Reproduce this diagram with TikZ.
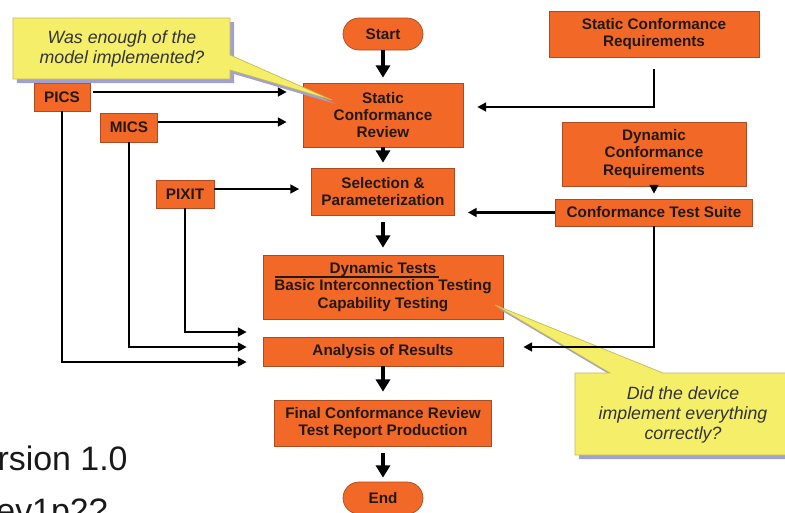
\documentclass[tikz,border=0pt]{standalone}
\usepackage{fontspec}
\setmainfont{Liberation Sans}
\usetikzlibrary{arrows.meta}
\definecolor{boxorange}{RGB}{242,104,38}
\definecolor{boxedge}{RGB}{170,75,35}
\definecolor{boxtext}{RGB}{35,25,20}
\definecolor{noteyellow}{RGB}{245,238,105}
\definecolor{noteedge}{RGB}{195,185,90}
\definecolor{shadowblue}{RGB}{160,160,210}

\begin{document}
\begin{tikzpicture}[x=0.02cm,y=-0.02cm,
  box/.style={draw=boxedge,fill=boxorange,text=boxtext,font=\bfseries\fontsize{8.7}{9.9}\selectfont,align=center,inner sep=0pt},
  note/.style={fill=noteyellow,draw=noteedge,line width=0.4pt},
  noteshadow/.style={fill=shadowblue,xshift=0.08cm,yshift=-0.08cm},
  notetext/.style={font=\itshape\fontsize{10.1}{11.3}\selectfont,align=center,text=black!80,inner sep=0pt},
  flow/.style={line width=1.8pt,-{Triangle[width=8pt,length=7pt]},shorten >=0.12cm},
  feed/.style={line width=1.2pt,-{Triangle[width=5pt,length=5pt]}}]
  \useasboundingbox (0,0) rectangle (785,512);
  \clip (0,0) rectangle (785,512);

  % main column
  \node[box,minimum width=1.6cm,minimum height=0.64cm,rounded corners=0.32cm] (start) at (383,34) {Start};
  \node[box,minimum width=3.2cm,minimum height=1.28cm] (scr) at (383,115) {Static\\Conformance\\Review};
  \node[box,minimum width=2.86cm,minimum height=0.94cm] (sel) at (383,191.5) {Selection \&\\Parameterization};
  \node[box,minimum width=4.8cm,minimum height=1.28cm] (dyn) at (383,287) {Dynamic Tests\\Basic Interconnection Testing\\Capability Testing};
  \node[box,minimum width=4.8cm,minimum height=0.58cm] (ana) at (383,351.5) {Analysis of Results};
  \node[box,minimum width=4.34cm,minimum height=0.92cm] (fin) at (383,423) {Final Conformance Review\\Test Report Production};
  \node[box,minimum width=1.6cm,minimum height=0.64cm,rounded corners=0.32cm] (end) at (383,498) {End};

  % right column
  \node[box,minimum width=4.2cm,minimum height=0.92cm] (screq) at (654,34) {Static Conformance\\Requirements};
  \node[box,minimum width=3.68cm,minimum height=1.28cm] (dcreq) at (654,154) {Dynamic\\Conformance\\Requirements};
  \node[box,minimum width=3.94cm,minimum height=0.54cm] (cts) at (654,212.5) {Conformance Test Suite};

  % left inputs
  \node[box,minimum width=1.12cm,minimum height=0.56cm] (pics) at (62,97) {PICS};
  \node[box,minimum width=1.14cm,minimum height=0.58cm] (mics) at (129,127.5) {MICS};
  \node[box,minimum width=1.16cm,minimum height=0.56cm] (pixit) at (185,194) {PIXIT};

  \draw[boxtext,line width=0.6pt] ([shift={(12,-10)}]dyn.west) -- ([shift={(176,-10)}]dyn.west);

  % callouts
  \fill[noteshadow] (13,18) -- (230,18) -- (230,55) -- (332,100) -- (230,70) -- (230,79) -- (13,79) -- cycle;
  \draw[note] (13,18) -- (230,18) -- (230,55) -- (332,100) -- (230,70) -- (230,79) -- (13,79) -- cycle;
  \node[notetext] (askmodel) at (122,49) {Was enough of the\\model implemented?};

  \fill[noteshadow] (575,373) -- (610,373) -- (495,305) -- (663,373) -- (792,373) -- (792,455) -- (575,455) -- cycle;
  \draw[note] (575,373) -- (610,373) -- (495,305) -- (663,373) -- (792,373) -- (792,455) -- (575,455) -- cycle;
  \node[notetext] (askdevice) at (683,415) {Did the device\\implement everything\\correctly?};

  % arrows
  \draw[flow,shorten >=0.1cm] (start) -- (scr);
  \draw[flow,shorten >=0.1cm] (scr) -- (sel);
  \draw[flow,shorten <=0.14cm,shorten >=0.14cm] (sel) -- (dyn);
  \draw[flow,shorten >=0.16cm] (ana) -- (fin);
  \draw[flow,shorten <=0.14cm,shorten >=0.08cm] (fin) -- (end);
  \draw[feed,shorten >=0.1cm] (dcreq) -- (cts);

  \draw[feed,shorten <=0.24cm,shorten >=0.28cm] (screq.south) |- ([yshift=0.16cm]scr.east);
  \draw[feed,shorten >=0.26cm] (cts.west) -- (cts.west -| sel.east);
  \draw[feed,shorten >=0.4cm] (cts.south) |- ([yshift=0.09cm]ana.east);

  \draw[feed,shorten <=0.06cm,shorten >=0.32cm] ([yshift=0.1cm]pics.east) -- ([yshift=0.1cm]pics.east -| scr.west);
  \draw[feed,shorten >=0.32cm] ([yshift=0.11cm]mics.east) -- ([yshift=0.11cm]mics.east -| scr.west);
  \draw[feed,shorten >=0.24cm] ([yshift=0.1cm]pixit.east) -- ([yshift=0.1cm]pixit.east -| sel.west);
  \draw[feed,shorten >=0.32cm] (pics.south) |- ([yshift=-0.21cm]ana.west);
  \draw[feed,shorten >=0.32cm] (mics.south) |- ([yshift=0.09cm]ana.west);
  \draw[feed,shorten >=0.32cm] (pixit.south) |- ([yshift=0.39cm]ana.west);

  % slide text behind
  \node[anchor=base east,inner sep=0pt,font=\fontsize{19.3}{23}\selectfont,text=black!90] (ver) at (128,470) {Version 1.0};
  \node[anchor=base east,inner sep=0pt,font=\fontsize{19.3}{23}\selectfont,text=black!90] (rev) at (108,522) {ev1p2?};
\end{tikzpicture}
\end{document}
